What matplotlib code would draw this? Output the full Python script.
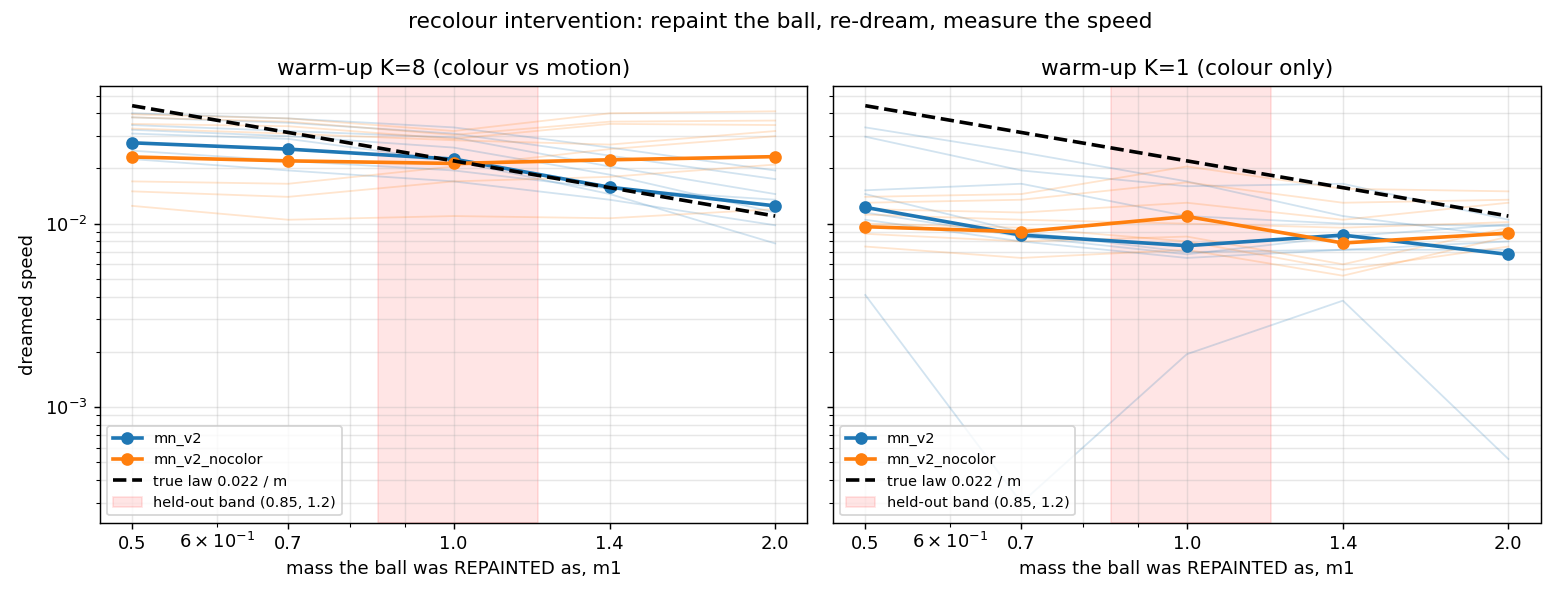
import numpy as np
import matplotlib
import matplotlib.pyplot as plt

matplotlib.use('Agg')

# masses the ball was repainted as
masses = [0.5, 0.7, 1.0, 1.4, 2.0]
mass_labels = ['0.5', '0.7', '1.0', '1.4', '2.0']

# warm-up K=8: per-seed dreamed speed (x1e-2)
k8_mn_v2_seeds = [
    [4.00, 3.75, 3.35, 2.60, 1.95],
    [3.80, 3.55, 3.10, 2.35, 1.75],
    [3.45, 3.20, 2.95, 2.05, 1.45],
    [3.25, 3.00, 2.60, 1.85, 1.15],
    [2.50, 2.20, 1.95, 1.55, 1.35],
    [2.25, 1.95, 1.70, 1.35, 0.98],
    [3.10, 2.90, 2.20, 1.45, 0.78],
]
k8_nocolor_seeds = [
    [3.95, 3.75, 3.20, 4.00, 4.10],
    [3.80, 3.60, 3.05, 3.60, 3.65],
    [3.50, 3.40, 2.90, 3.50, 3.45],
    [3.30, 3.10, 2.85, 2.70, 3.20],
    [1.70, 1.65, 2.05, 2.55, 3.00],
    [1.50, 1.40, 1.70, 1.80, 2.10],
    [1.25, 1.05, 1.10, 1.07, 1.20],
]
k8_mn_v2_mean = [2.76, 2.55, 2.25, 1.58, 1.25]
k8_nocolor_mean = [2.31, 2.20, 2.13, 2.23, 2.32]

# warm-up K=1: per-seed dreamed speed (x1e-2)
k1_mn_v2_seeds = [
    [3.35, 2.45, 1.70, 1.10, 0.85],
    [2.98, 1.95, 1.60, 1.65, 1.05],
    [1.52, 1.65, 1.10, 1.00, 0.97],
    [1.45, 0.90, 0.70, 0.72, 0.80],
    [1.15, 0.85, 0.68, 0.85, 0.99],
    [1.05, 0.80, 0.65, 0.72, 0.72],
    [0.408, 0.030, 0.194, 0.38, 0.052],
]
k1_nocolor_seeds = [
    [1.40, 1.45, 2.05, 1.55, 1.50],
    [1.30, 1.35, 1.68, 1.30, 1.35],
    [1.20, 1.15, 1.30, 1.05, 1.30],
    [1.12, 1.05, 1.00, 0.95, 1.02],
    [0.88, 0.80, 0.85, 0.60, 0.95],
    [0.75, 0.65, 0.72, 0.52, 0.85],
    [1.00, 0.95, 0.80, 0.56, 0.75],
]
k1_mn_v2_mean = [1.227, 0.866, 0.758, 0.866, 0.679]
k1_nocolor_mean = [0.962, 0.903, 1.094, 0.784, 0.888]

true_coef = 0.022
band = (0.85, 1.2)

panels = [
    ('warm-up K=8 (colour vs motion)', k8_mn_v2_seeds, k8_nocolor_seeds, k8_mn_v2_mean, k8_nocolor_mean),
    ('warm-up K=1 (colour only)', k1_mn_v2_seeds, k1_nocolor_seeds, k1_mn_v2_mean, k1_nocolor_mean),
]

x = np.array(masses)
fig, axes = plt.subplots(1, 2, figsize=(12, 4.6), dpi=130, sharey=True)

for ax, (title, blue_seeds, orange_seeds, blue_mean, orange_mean) in zip(axes, panels):
    for s in blue_seeds:
        ax.plot(x, np.array(s) * 1e-2, color='C0', alpha=0.2, lw=1)
    for s in orange_seeds:
        ax.plot(x, np.array(s) * 1e-2, color='C1', alpha=0.2, lw=1)
    ax.plot(x, np.array(blue_mean) * 1e-2, 'o-', color='C0', lw=2, label='mn_v2')
    ax.plot(x, np.array(orange_mean) * 1e-2, 'o-', color='C1', lw=2, label='mn_v2_nocolor')
    ax.plot(x, true_coef / x, 'k--', lw=2, label=f'true law {true_coef} / m')
    ax.axvspan(band[0], band[1], color='red', alpha=0.1, label=f'held-out band {band}')
    ax.set_xscale('log')
    ax.set_yscale('log')
    ax.set_xticks(masses)
    ax.set_xticklabels(mass_labels)
    ax.grid(True, which='both', alpha=0.3)
    ax.set_title(title)
    ax.set_xlabel('mass the ball was REPAINTED as, m1')
    ax.legend(loc='lower left', fontsize=8)

axes[0].set_ylabel('dreamed speed')
fig.suptitle('recolour intervention: repaint the ball, re-dream, measure the speed')
fig.tight_layout()
fig.savefig('out.png')
